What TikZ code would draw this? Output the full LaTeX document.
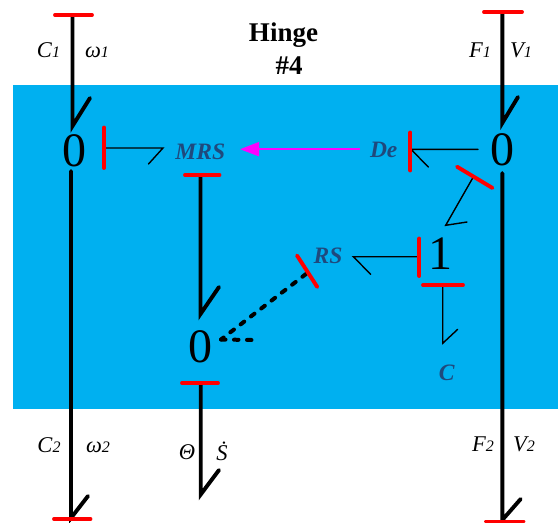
\documentclass[tikz,border=0pt]{standalone}
\usepackage{fontspec}
\setmainfont{Liberation Serif}
\usetikzlibrary{arrows.meta}
\definecolor{panelblue}{HTML}{00B0F0}
\definecolor{labelblue}{HTML}{1F497D}
\definecolor{barred}{HTML}{FF0000}
\definecolor{sigmag}{HTML}{FF00FF}
\tikzset{
  heavy/.style={draw=black,line width=3.9pt,line cap=round,line join=miter},
  fine/.style={draw=black,line width=1.4pt,line cap=round,line join=miter},
  bar/.style={draw=barred,line width=3.9pt,line cap=round},
  dotbond/.style={draw=black,line width=4pt,line cap=round,dash pattern=on 4.5pt off 8.5pt},
  signal/.style={draw=sigmag,line width=1.95pt,-{Triangle[length=19pt,width=14pt,sep=0pt,color=sigmag,fill=sigmag]}},
  junction/.style={inner sep=0pt,anchor=base,font=\fontsize{48}{48}\selectfont},
  element/.style={inner sep=0pt,anchor=base,text=labelblue,font=\fontsize{23.5}{24}\selectfont\bfseries\itshape},
  effort/.style={inner sep=0pt,anchor=base,font=\fontsize{22.5}{24}\selectfont\itshape},
  titletext/.style={inner sep=0pt,anchor=base,font=\fontsize{27}{28}\selectfont\bfseries},
}
\newcommand{\sbs}[1]{{\fontsize{16}{16}\selectfont #1}}
\begin{document}
\begin{tikzpicture}[x=1pt,y=-1pt]
\useasboundingbox (0,0) rectangle (558,523);
\fill[panelblue] (13,85) rectangle (558,408.7);

% text nodes
\node[titletext] (t1) at (283.5,41.5) {Hinge};
\node[titletext] (t2) at (289,74) {\#4};
\node[junction] (jl) at (74,166.7) {0};
\node[junction] (jm) at (200.7,362.7) {0};
\node[junction] (jr) at (502.7,165) {0};
\node[junction] (jo) at (440,269.3) {1};
\node[element] (mrs) at (200.3,159.3) {MRS};
\node[element] (de) at (383.7,157) {De};
\node[element] (rs) at (328,263.3) {RS};
\node[element] (cc) at (446.7,380.7) {C};
\node[effort] (c1) at (48.5,57.3) {C\sbs{1}};
\node[effort] (w1) at (97,57.3) {ω\sbs{1}};
\node[effort] (f1) at (480,57.3) {F\sbs{1}};
\node[effort] (v1) at (521,57.3) {V\sbs{1}};
\node[effort] (c2) at (49,452.7) {C\sbs{2}};
\node[effort] (w2) at (98,452.7) {ω\sbs{2}};
\node[effort] (th) at (187,459) {Θ};
\node[effort] (sd) at (222,460) {\.{S}};
\node[effort] (f2) at (483,451.7) {F\sbs{2}};
\node[effort] (v2) at (524,451.7) {V\sbs{2}};

% bond C1 / omega1
\coordinate (a1) at (55,15); \coordinate (a2) at (92,15);
\coordinate (a0) at (72.5,15); \coordinate (a3) at (72.5,126); \coordinate (a4) at (90,98);
\draw[heavy] (a0) -- (a3) -- (a4);
\draw[bar] (a1) -- (a2);
% bond C2 / omega2
\coordinate (b0) at (71,171); \coordinate (b1) at (71,518); \coordinate (b2) at (88,496);
\coordinate (b3) at (54,519); \coordinate (b4) at (90.5,519);
\draw[heavy] (b0) -- (b1) -- (b2);
\draw[bar] (b3) -- (b4);
% bond F1 / V1
\coordinate (c0) at (502.3,12); \coordinate (c3) at (502.3,123); \coordinate (c4) at (518,97);
\coordinate (c5) at (484,12); \coordinate (c6) at (522,12);
\draw[heavy] (c0) -- (c3) -- (c4);
\draw[bar] (c5) -- (c6);
% bond F2 / V2
\coordinate (d0) at (502.3,173); \coordinate (d1) at (502.3,520); \coordinate (d2) at (520.7,499);
\coordinate (d3) at (486,521.5); \coordinate (d4) at (523.5,521.5);
\draw[heavy] (d0) -- (d1) -- (d2);
\draw[bar] (d3) -- (d4);
% bond MRS to middle 0
\coordinate (e0) at (200.5,175); \coordinate (e1) at (200.5,314); \coordinate (e2) at (219,287);
\coordinate (e3) at (185,175); \coordinate (e4) at (219.5,175);
\draw[heavy] (e0) -- (e1) -- (e2);
\draw[bar] (e3) -- (e4);
% bond middle 0 to Theta
\coordinate (g0) at (200.7,383); \coordinate (g1) at (200.7,494.5); \coordinate (g2) at (219,470);
\coordinate (g3) at (182,383); \coordinate (g4) at (218,383);
\draw[heavy] (g0) -- (g1) -- (g2);
\draw[bar] (g3) -- (g4);
% bond to MRS from left 0
\coordinate (h0) at (104,148); \coordinate (h1) at (163,148); \coordinate (h2) at (148.5,164);
\coordinate (h3) at (104,127.5); \coordinate (h4) at (104,168);
\draw[fine] (h0) -- (h1) -- (h2);
\draw[bar] (h3) -- (h4);
% signal arrow De to MRS
\coordinate (s0) at (360,149.2); \coordinate (s1) at (240,149.2);
\draw[signal] (s0) -- (s1);
% bond right 0 to De
\coordinate (i0) at (478,149.3); \coordinate (i1) at (411,149.3); \coordinate (i2) at (428.3,167);
\coordinate (i3) at (410.3,132.5); \coordinate (i4) at (410.3,170.5);
\draw[fine] (i0) -- (i1) -- (i2);
\draw[bar] (i3) -- (i4);
% bond right 0 to 1
\coordinate (k0) at (472.7,178); \coordinate (k1) at (445.7,225.3); \coordinate (k2) at (467,222);
\coordinate (k3) at (457,166.7); \coordinate (k4) at (492.5,188);
\draw[fine] (k0) -- (k1) -- (k2);
\draw[bar] (k3) -- (k4);
% bond 1 to RS
\coordinate (l0) at (419.3,256.7); \coordinate (l1) at (353.3,256.7); \coordinate (l2) at (370.7,274.3);
\coordinate (l3) at (419.3,238.5); \coordinate (l4) at (419.3,276);
\draw[fine] (l0) -- (l1) -- (l2);
\draw[bar] (l3) -- (l4);
% bond 1 to C
\coordinate (m0) at (442.7,285); \coordinate (m1) at (442.7,343.3); \coordinate (m2) at (457.7,329.3);
\coordinate (m3) at (423,285); \coordinate (m4) at (463,285);
\draw[fine] (m0) -- (m1) -- (m2);
\draw[bar] (m3) -- (m4);
% dashed bond RS to middle 0
\coordinate (n0) at (306,274); \coordinate (n1) at (221,339.5); \coordinate (n2) at (252,340);
\coordinate (n3) at (297,255.5); \coordinate (n4) at (317.3,287);
\draw[dotbond] (n0) -- (n1);
\draw[dotbond] (n1) -- (n2);
\draw[bar] (n3) -- (n4);
\end{tikzpicture}
\end{document}
